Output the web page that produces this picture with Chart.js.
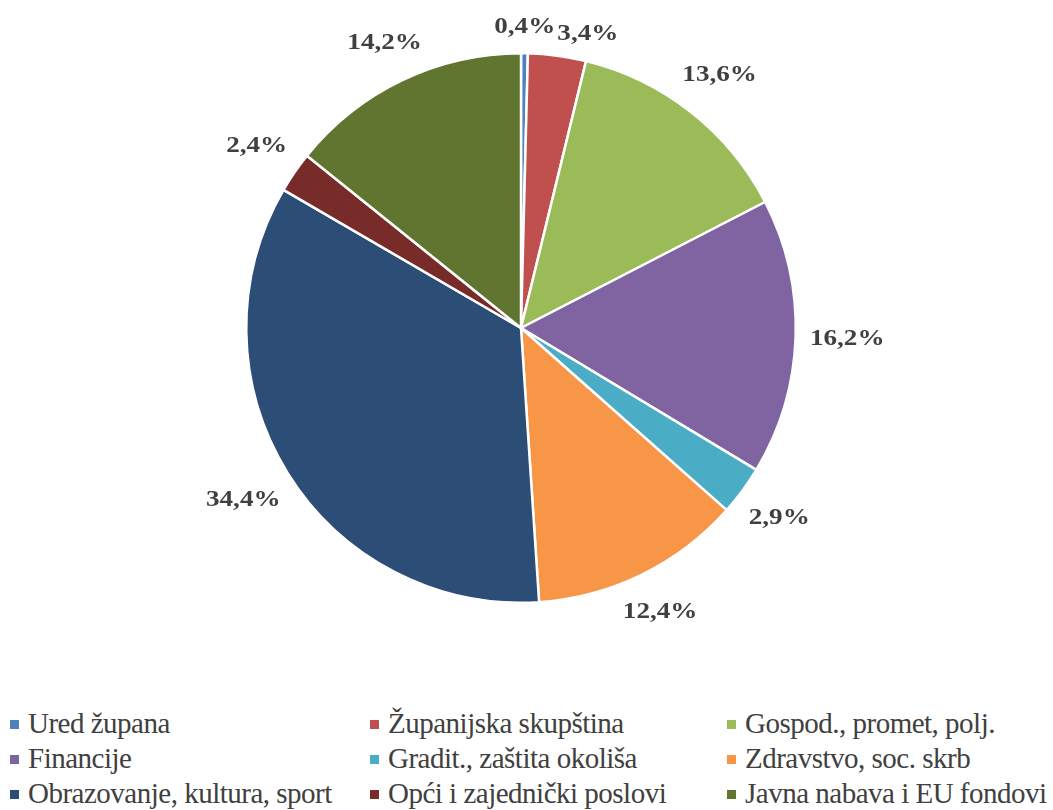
<!DOCTYPE html>
<html>
<head>
<meta charset="utf-8">
<script src="https://cdn.jsdelivr.net/npm/chart.js@4.4.0/dist/chart.umd.min.js"></script>
<style>
    body { margin: 0; background: #fff; }
    #wrap { position: relative; width: 1053px; height: 810px; }
    #chartBox { position: absolute; left: 0; top: 0; width: 1053px; height: 670px; }
    #legend {
        position: absolute; left: 10px; top: 706px;
        display: grid; grid-template-columns: 360px 357px 320px;
        color: #404040;
    }
    .item {
        display: flex; align-items: center; white-space: nowrap; height: 35px;
        font-family: 'Liberation Serif', 'Times New Roman', serif;
        font-size: 29px; letter-spacing: -0.5px;
    }
    .box { width: 9px; height: 9px; margin-right: 9px; margin-top: 2px; flex: none; }
</style>
</head>
<body>
<div id="wrap">
    <div id="chartBox"><canvas id="pieChart"></canvas></div>
    <div id="legend"></div>
</div>
<script>
// Udio po upravnim tijelima
const categories = [
    'Ured župana',
    'Županijska skupština',
    'Gospod., promet, polj.',
    'Financije',
    'Gradit., zaštita okoliša',
    'Zdravstvo, soc. skrb',
    'Obrazovanje, kultura, sport',
    'Opći i zajednički poslovi',
    'Javna nabava i EU fondovi'
];
const shares = [0.4, 3.4, 13.6, 16.2, 2.9, 12.4, 34.4, 2.4, 14.2];
const colors = [
    '#4F81BD', '#C0504D', '#9BBB59',
    '#8064A2', '#4BACC6', '#F79646',
    '#2C4D75', '#772C2A', '#5F7530'
];

// build legend
const legendEl = document.getElementById('legend');
categories.forEach((name, i) => {
    const item = document.createElement('div');
    item.className = 'item';
    const box = document.createElement('span');
    box.className = 'box';
    box.style.background = colors[i];
    const label = document.createElement('span');
    label.textContent = name;
    item.appendChild(box);
    item.appendChild(label);
    legendEl.appendChild(item);
});

// percentage labels outside the slices
const stretch = 1.18;
const outsideLabels = {
    id: 'outsideLabels',
    afterDatasetsDraw(chart) {
        const ctx = chart.ctx;
        const meta = chart.getDatasetMeta(0);
        ctx.save();
        ctx.font = 'bold 23px "Liberation Serif", serif';
        ctx.fillStyle = '#404040';
        ctx.textAlign = 'center';
        ctx.textBaseline = 'middle';
        let prev = null;
        meta.data.forEach((arc, i) => {
            const text = shares[i].toFixed(1).replace('.', ',') + '%';
            const w = ctx.measureText(text).width * stretch;
            const h = 24;
            const mid = (arc.startAngle + arc.endAngle) / 2;
            const cx = Math.cos(mid), cy = Math.sin(mid);
            const d = arc.outerRadius + 14 + Math.abs(cx) * w / 2 + Math.abs(cy) * h / 2;
            let x = arc.x + cx * d;
            let y = arc.y + cy * d;
            if (prev && Math.abs(y - prev.y) < h && x - w / 2 < prev.x + prev.w / 2 + 4 && x > prev.x) {
                x = prev.x + prev.w / 2 + 2 + w / 2;
                y = prev.y + 7;
            }
            ctx.save();
            ctx.translate(x, y);
            ctx.scale(stretch, 1);
            ctx.fillText(text, 0, 0);
            ctx.restore();
            prev = { x: x, y: y, w: w };
        });
        ctx.restore();
    }
};

const ctx = document.getElementById('pieChart').getContext('2d');
const pieChart = new Chart(ctx, {
    type: 'pie',
    data: {
        labels: categories,
        datasets: [{
            data: shares,
            backgroundColor: colors,
            borderColor: '#ffffff',
            borderWidth: 2.5
        }]
    },
    options: {
        responsive: true,
        maintainAspectRatio: false,
        animation: false,
        layout: { padding: { top: 52, bottom: 66, left: 0, right: 11 } },
        plugins: {
            legend: { display: false },
            tooltip: { enabled: false }
        }
    },
    plugins: [outsideLabels]
});
</script>
</body>
</html>
